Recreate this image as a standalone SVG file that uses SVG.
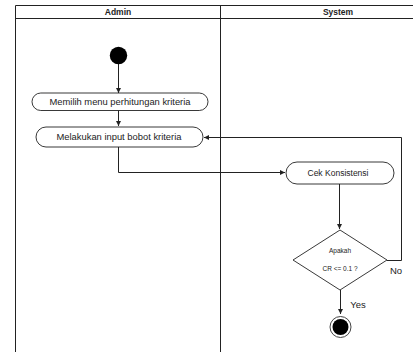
<svg xmlns="http://www.w3.org/2000/svg" width="413" height="352" viewBox="0 0 413 352">
<style>
.lane{fill:none;stroke:#222;stroke-width:1}
.act{fill:#fff;stroke:#222;stroke-width:0.9}
.t{font-family:"Liberation Sans",Arial,sans-serif;font-size:8.5px;fill:#222;text-anchor:middle}
.h{font-family:"Liberation Sans",Arial,sans-serif;font-size:8.5px;font-weight:bold;fill:#222;text-anchor:middle}
.s{font-family:"Liberation Sans",Arial,sans-serif;font-size:6.5px;fill:#222;text-anchor:middle}
.c{fill:none;stroke:#222;stroke-width:1}
</style>
<defs>
<marker id="arr" markerWidth="6" markerHeight="6" refX="5" refY="3" orient="auto" markerUnits="userSpaceOnUse">
<path d="M0,0.5 L5,3 L0,5.5 Z" fill="#222"/>
</marker>
</defs>
<rect width="413" height="352" fill="#fff"/>
<g id="swimlanes">
<path class="lane" d="M15.5,360 V5.5 H420 M15.5,18.5 H420 M220.5,5.5 V360"/>
<text class="h" x="118" y="15">Admin</text>
<text class="h" x="338" y="15">System</text>
</g>
<g id="connectors">
<path class="c" d="M118.5,64 V93" marker-end="url(#arr)"/>
<path class="c" d="M118.5,110 V126" marker-end="url(#arr)"/>
<path class="c" d="M118.5,147 V172.5 H285" marker-end="url(#arr)"/>
<path class="c" d="M339.5,184 V229" marker-end="url(#arr)"/>
<path class="c" d="M387,260.5 H401.5 V137.5 H204" marker-end="url(#arr)"/>
<path class="c" d="M340.5,290 V314" marker-end="url(#arr)"/>
<text class="t" x="396" y="274" style="font-size:9.5px">No</text>
<text class="t" x="358" y="308" style="font-size:9.5px">Yes</text>
</g>
<g id="start">
<circle cx="118.5" cy="55.5" r="8.7" fill="#000"/>
</g>
<g id="memilih">
<rect class="act" x="32" y="93" width="176" height="17.5" rx="8.75"/>
<text class="t" x="120" y="105" textLength="141" lengthAdjust="spacingAndGlyphs">Memilih menu perhitungan kriteria</text>
</g>
<g id="melakukan">
<rect class="act" x="36" y="127" width="167" height="20" rx="10"/>
<text class="t" x="119" y="140" textLength="125" lengthAdjust="spacingAndGlyphs">Melakukan input bobot kriteria</text>
</g>
<g id="cek">
<rect class="act" x="286" y="162" width="108" height="22" rx="11"/>
<text class="t" x="338" y="176" textLength="61" lengthAdjust="spacingAndGlyphs">Cek Konsistensi</text>
</g>
<g id="decision">
<path class="act" d="M340,230 L387,260 L340,290 L293,260 Z"/>
<text class="s" x="340" y="253">Apakah</text>
<text class="s" x="340" y="271">CR &lt;= 0.1 ?</text>
</g>
<g id="end">
<circle cx="340.5" cy="327" r="10.5" fill="#fff" stroke="#444" stroke-width="1"/>
<circle cx="340.5" cy="327" r="8" fill="#000"/>
</g>
</svg>
